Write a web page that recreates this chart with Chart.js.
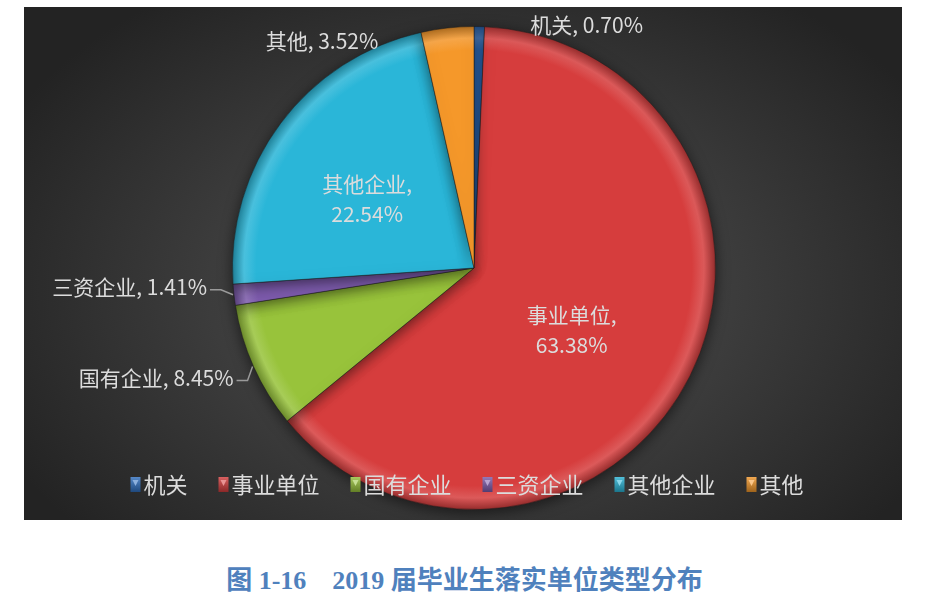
<!DOCTYPE html>
<html>
<head>
<meta charset="utf-8">
<script src="https://cdn.jsdelivr.net/npm/chart.js@4/dist/chart.umd.min.js"></script>
<style>
  body { margin: 0; background: #fff; width: 929px; height: 605px; position: relative; overflow: hidden; }
  #panel {
    position: absolute; left: 24px; top: 7px; width: 878px; height: 513px;
    background: radial-gradient(ellipse 60% 70% at 51% 55%, #4c4c4c 0%, #3c3c3c 50%, #232323 100%);
  }
  #title {
    position: absolute; left: 0; width: 929px; top: 559px; text-align: center;
    font: bold 26px "Liberation Serif", "Noto Sans CJK SC", serif; color: #4f81bd;
  }
</style>
</head>
<body>
<div id="panel"><canvas id="pie-chart" width="878" height="513"></canvas></div>
<div id="title">图 1-16&nbsp;&nbsp;&nbsp;&nbsp;2019 届毕业生落实单位类型分布</div>
<script>
// Data
const categories = ['机关', '事业单位', '国有企业', '三资企业', '其他企业', '其他'];
const shares = [0.70, 63.38, 8.45, 1.41, 22.54, 3.52];
const sliceColors = ['#2f70c2', '#d63d3d', '#98c33b', '#7e5cae', '#2ab6d8', '#f5982a'];

// label placement: inside slices or outside with a nudge from the rim
const labelMode = ['outside', 'inside', 'outside', 'outside', 'inside', 'outside'];
const labelNudge = [[51, -2, 'left', false], [-6, 10], [-20, 11, 'right', true], [-27, -8, 'right', true], [-14, 0], [-69, 13, 'right', false]];

const labelFont = '21px "Noto Sans CJK SC", sans-serif';
const textColor = '#dcdcdc';

function shade(hex, amt) {
    const n = parseInt(hex.slice(1), 16);
    let r = (n >> 16) & 255, g = (n >> 8) & 255, b = n & 255;
    const f = v => Math.max(0, Math.min(255, Math.round(amt > 0 ? v + (255 - v) * amt : v * (1 + amt))));
    return `rgb(${f(r)},${f(g)},${f(b)})`;
}

function sliceFill(context) {
    const chart = context.chart;
    const area = chart.chartArea;
    const base = sliceColors[context.dataIndex];
    if (!area) return base;
    const cx = (area.left + area.right) / 2, cy = (area.top + area.bottom) / 2;
    const r = Math.min(area.right - area.left, area.bottom - area.top) / 2;
    const g = chart.ctx.createRadialGradient(cx, cy, 0, cx, cy, r);
    g.addColorStop(0, base);
    g.addColorStop(0.9, base);
    g.addColorStop(0.95, shade(base, 0.15));
    g.addColorStop(1, shade(base, -0.3));
    return g;
}

// Slice labels
const sliceLabels = {
    id: 'sliceLabels',
    afterDatasetsDraw(chart) {
        const ctx = chart.ctx;
        const meta = chart.getDatasetMeta(0);
        ctx.save();
        ctx.font = labelFont;
        ctx.fillStyle = textColor;
        ctx.textBaseline = 'middle';
        meta.data.forEach((arc, i) => {
            const p = arc.getProps(['x', 'y', 'startAngle', 'endAngle', 'outerRadius'], true);
            const mid = (p.startAngle + p.endAngle) / 2;
            const dx = Math.cos(mid), dy = Math.sin(mid);
            const pct = shares[i].toFixed(2) + '%';
            if (labelMode[i] === 'inside') {
                const lx = p.x + dx * p.outerRadius * 0.48 + labelNudge[i][0];
                const ly = p.y + dy * p.outerRadius * 0.48 + labelNudge[i][1];
                ctx.textAlign = 'center';
                ctx.fillText(categories[i] + ',', lx, ly - 15);
                ctx.fillText(pct, lx, ly + 15);
            } else {
                const ex = p.x + dx * p.outerRadius, ey = p.y + dy * p.outerRadius;
                const [nx, ny, align, leader] = labelNudge[i];
                const tx = ex + nx, ty = ey + ny;
                ctx.textAlign = align;
                ctx.fillText(categories[i] + ', ' + pct, tx, ty);
                if (leader) {
                    ctx.strokeStyle = '#9a9a9a';
                    ctx.lineWidth = 1.5;
                    ctx.beginPath();
                    ctx.moveTo(tx + 3, ty + 3);
                    ctx.lineTo(tx + 14, ty + 3);
                    ctx.lineTo(ex - 1, ey);
                    ctx.stroke();
                }
            }
        });
        ctx.restore();
    }
};

// Legend drawn over the pie
const overlayLegend = {
    id: 'overlayLegend',
    afterDraw(chart) {
        const ctx = chart.ctx;
        ctx.save();
        ctx.font = '22px "Noto Sans CJK SC", sans-serif';
        ctx.textBaseline = 'middle';
        ctx.textAlign = 'left';
        const box = 10, gap = 3, spacing = 31;
        const widths = categories.map(c => ctx.measureText(c).width);
        const total = widths.reduce((a, w) => a + box + gap + w, 0) + spacing * (categories.length - 1);
        let x = (chart.width - total) / 2 + 4;
        const y = 477;
        categories.forEach((c, i) => {
            const g = ctx.createLinearGradient(x, y - 8, x, y + 8);
            g.addColorStop(0, shade(sliceColors[i], 0.2));
            g.addColorStop(1, shade(sliceColors[i], -0.35));
            ctx.fillStyle = g;
            ctx.fillRect(x, y - 7, box, 15);
            ctx.fillStyle = shade(sliceColors[i], 0.45);
            ctx.beginPath();
            ctx.moveTo(x + 2, y - 4);
            ctx.lineTo(x + box - 2, y - 4);
            ctx.lineTo(x + box / 2, y + 2);
            ctx.closePath();
            ctx.fill();
            ctx.fillStyle = textColor;
            ctx.fillText(c, x + box + gap, y + 1);
            x += box + gap + widths[i] + spacing;
        });
        ctx.restore();
    }
};

// Soft shadow under the pie
const pieShadow = {
    id: 'pieShadow',
    beforeDatasetsDraw(chart) {
        chart.ctx.save();
        chart.ctx.shadowColor = 'rgba(0,0,0,0.55)';
        chart.ctx.shadowBlur = 14;
        chart.ctx.shadowOffsetY = 3;
    },
    afterDatasetsDraw(chart) {
        chart.ctx.restore();
    }
};

const ctx = document.getElementById('pie-chart').getContext('2d');
new Chart(ctx, {
    type: 'pie',
    data: {
        labels: categories,
        datasets: [{
            data: shares,
            backgroundColor: sliceFill,
            borderColor: 'rgba(30,30,30,0.5)',
            borderWidth: 1
        }]
    },
    options: {
        responsive: false,
        animation: false,
        layout: { padding: { left: 208, right: 186, top: 19, bottom: 10 } },
        plugins: {
            legend: { display: false },
            tooltip: { enabled: false }
        }
    },
    plugins: [pieShadow, sliceLabels, overlayLegend]
});
</script>
</body>
</html>
